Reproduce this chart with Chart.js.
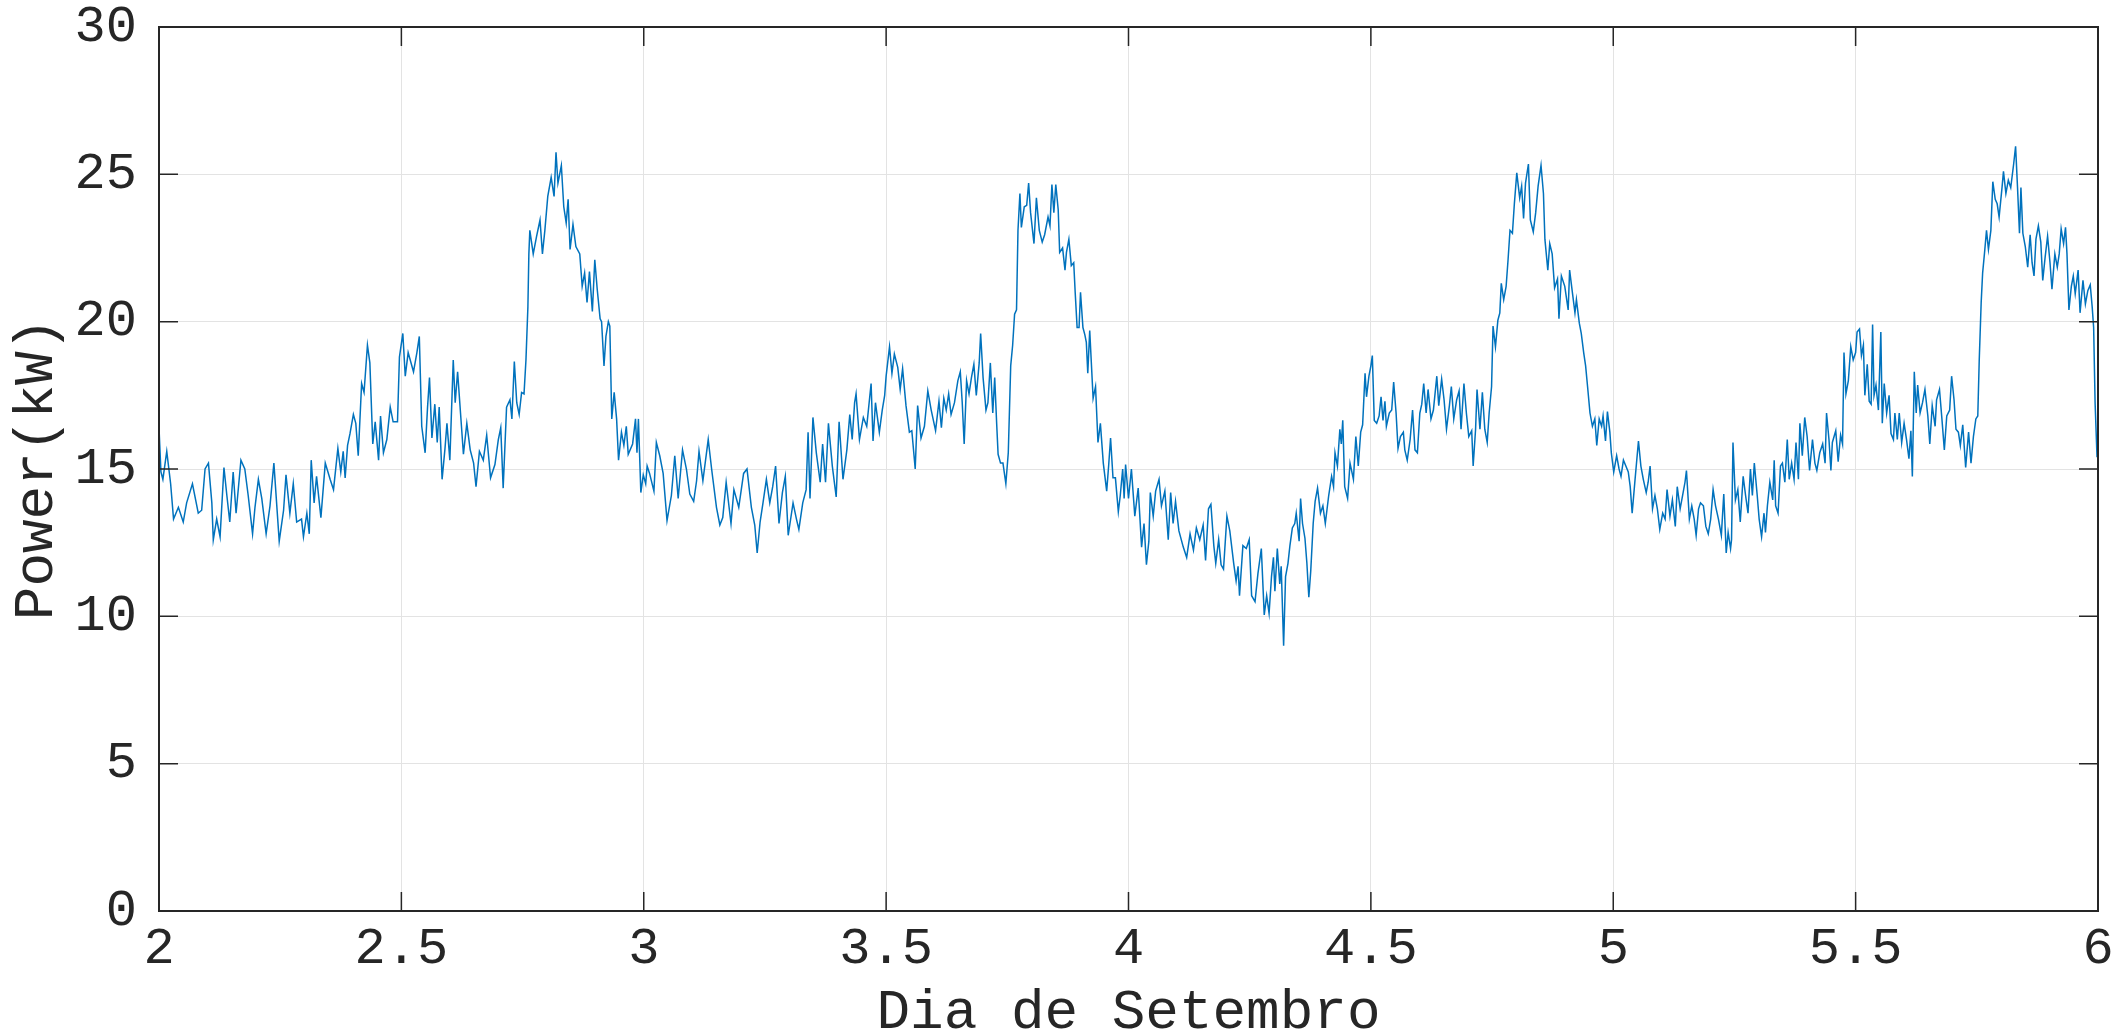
<!DOCTYPE html>
<html>
<head>
<meta charset="utf-8">
<script src="https://cdn.jsdelivr.net/npm/chart.js@4/dist/chart.umd.min.js"></script>
<style>
  html, body { margin: 0; padding: 0; background: #ffffff; }
  #wrap { width: 2124px; height: 1030px; position: relative; }
</style>
</head>
<body>
<div id="wrap"><canvas id="powerChart"></canvas></div>
<script>
// time axis, in days of September
var days = [
  2.000, 2.004, 2.008, 2.016, 2.024, 2.030, 2.040, 2.050, 2.057, 2.069, 2.081, 2.088, 2.095, 2.102, 2.109, 2.112,
  2.119, 2.126, 2.134, 2.140, 2.146, 2.153, 2.159, 2.169, 2.177, 2.184, 2.193, 2.198, 2.205, 2.212, 2.221, 2.229,
  2.237, 2.248, 2.257, 2.262, 2.270, 2.277, 2.284, 2.294, 2.298, 2.305, 2.310, 2.314, 2.320, 2.325, 2.334, 2.343,
  2.353, 2.360, 2.369, 2.375, 2.380, 2.384, 2.389, 2.394, 2.401, 2.406, 2.411, 2.418, 2.423, 2.430, 2.435, 2.441,
  2.446, 2.453, 2.457, 2.463, 2.470, 2.477, 2.483, 2.492, 2.496, 2.503, 2.508, 2.514, 2.525, 2.532, 2.537, 2.542,
  2.549, 2.554, 2.558, 2.563, 2.569, 2.574, 2.578, 2.584, 2.590, 2.594, 2.600, 2.607, 2.611, 2.616, 2.622, 2.628,
  2.635, 2.642, 2.649, 2.654, 2.661, 2.669, 2.676, 2.684, 2.693, 2.700, 2.705, 2.710, 2.717, 2.724, 2.728, 2.733,
  2.738, 2.743, 2.748, 2.753, 2.757, 2.761, 2.763, 2.765, 2.772, 2.779,
  2.786, 2.791, 2.796, 2.802, 2.809, 2.815, 2.819, 2.823, 2.830, 2.835, 2.840, 2.844, 2.848, 2.854, 2.860, 2.868,
  2.873, 2.878, 2.883, 2.888, 2.894, 2.899, 2.904, 2.910, 2.913, 2.918, 2.922, 2.927, 2.930, 2.934, 2.939, 2.944,
  2.948, 2.954, 2.959, 2.964, 2.968, 2.977, 2.983, 2.986, 2.989, 2.994, 2.999, 3.004, 3.007, 3.012, 3.021, 3.026,
  3.033, 3.040, 3.048, 3.057, 3.064, 3.071, 3.080, 3.088, 3.095, 3.103, 3.109, 3.114, 3.122, 3.133, 3.140, 3.150,
  3.157, 3.163, 3.170, 3.180, 3.186, 3.196, 3.206, 3.213, 3.222, 3.229, 3.234, 3.240, 3.246, 3.253, 3.260, 3.266,
  3.272, 3.279, 3.286, 3.292, 3.298, 3.308, 3.315, 3.320, 3.328, 3.335, 3.339, 3.343, 3.349, 3.356, 3.364, 3.369,
  3.375, 3.381, 3.389, 3.397, 3.403, 3.411, 3.419, 3.425, 3.430, 3.435, 3.438, 3.445, 3.453, 3.460, 3.469, 3.473,
  3.478, 3.486, 3.492, 3.497, 3.500, 3.507, 3.512, 3.517, 3.524, 3.529, 3.534, 3.541, 3.548, 3.553, 3.560, 3.565,
  3.572, 3.579, 3.586, 3.593, 3.602, 3.609,
  3.614, 3.619, 3.624, 3.629, 3.634, 3.641, 3.648, 3.653, 3.657, 3.661, 3.666, 3.671, 3.676, 3.681, 3.686, 3.692,
  3.695, 3.700, 3.706, 3.710, 3.715, 3.720, 3.724, 3.728, 3.731, 3.736, 3.741, 3.747, 3.752, 3.757, 3.761, 3.765,
  3.769, 3.772, 3.776, 3.779, 3.785, 3.790, 3.794, 3.798, 3.805, 3.810, 3.816, 3.822, 3.827, 3.834, 3.838, 3.842,
  3.846, 3.850, 3.855, 3.858, 3.864, 3.869, 3.872, 3.877, 3.882, 3.887, 3.890, 3.894, 3.898, 3.901, 3.906, 3.910,
  3.913, 3.916, 3.920, 3.927, 3.932, 3.937, 3.942, 3.948, 3.955, 3.959, 3.963, 3.968, 3.973, 3.979, 3.983, 3.988,
  3.991, 3.994, 4.000, 4.006, 4.013, 4.020, 4.027, 4.032, 4.037, 4.042, 4.045, 4.051, 4.056, 4.063, 4.068, 4.075,
  4.082, 4.087, 4.092, 4.097, 4.104, 4.113, 4.120, 4.127, 4.134, 4.140, 4.147, 4.154, 4.159, 4.165, 4.170, 4.176,
  4.180, 4.186, 4.191, 4.196, 4.203, 4.209, 4.217, 4.222, 4.226, 4.229, 4.236, 4.243, 4.249, 4.254, 4.261, 4.267,
  4.274, 4.280, 4.285, 4.290, 4.295, 4.299, 4.302, 4.307, 4.312, 4.315, 4.320, 4.324, 4.329, 4.333, 4.338, 4.343,
  4.346, 4.352, 4.355, 4.359, 4.364, 4.368, 4.372, 4.376, 4.381, 4.385, 4.390, 4.396, 4.401, 4.406, 4.413,
  4.419, 4.423, 4.426, 4.431, 4.436, 4.439, 4.442, 4.446, 4.452, 4.457, 4.464, 4.469, 4.474, 4.479, 4.483, 4.488,
  4.491, 4.496, 4.500, 4.503, 4.507, 4.512, 4.517, 4.521, 4.525, 4.529, 4.532, 4.538, 4.543, 4.547, 4.552, 4.556,
  4.561, 4.567, 4.570, 4.575, 4.581, 4.586, 4.591, 4.596, 4.601, 4.605, 4.609, 4.614, 4.618, 4.624, 4.629, 4.636,
  4.640, 4.646, 4.651, 4.656, 4.662, 4.666, 4.671, 4.677, 4.682, 4.686, 4.692, 4.697, 4.702, 4.708, 4.711, 4.716,
  4.719, 4.725, 4.730, 4.735, 4.740, 4.744, 4.749, 4.752, 4.757, 4.762, 4.766, 4.769, 4.774, 4.779, 4.783, 4.787,
  4.792, 4.796, 4.801, 4.807, 4.811, 4.815, 4.819, 4.825, 4.829, 4.835, 4.840, 4.845, 4.851, 4.856, 4.859, 4.865,
  4.869, 4.874, 4.879, 4.885, 4.888, 4.893, 4.900, 4.907, 4.910, 4.916, 4.921, 4.924, 4.930, 4.934, 4.939, 4.943,
  4.947, 4.952, 4.957, 4.962, 4.966, 4.971, 4.976, 4.979, 4.984, 4.988, 4.993, 4.996, 5.001, 5.007, 5.012, 5.016,
  5.021, 5.026, 5.031, 5.035, 5.039, 5.045, 5.052, 5.057, 5.062, 5.068, 5.072, 5.076, 5.081, 5.086, 5.091, 5.096,
  5.102, 5.107, 5.111, 5.117, 5.122, 5.128, 5.132, 5.138, 5.143, 5.148, 5.151, 5.157, 5.162, 5.167, 5.171, 5.176,
  5.180, 5.186, 5.191, 5.196, 5.201, 5.206, 5.211, 5.217,
  5.223, 5.228, 5.233, 5.237, 5.242, 5.244, 5.247, 5.252, 5.257, 5.262, 5.268, 5.273, 5.278, 5.283, 5.287, 5.291,
  5.297, 5.301, 5.306, 5.311, 5.314, 5.318, 5.323, 5.329, 5.332, 5.335, 5.340, 5.345, 5.349, 5.354, 5.359, 5.363,
  5.368, 5.373, 5.377, 5.382, 5.385, 5.390, 5.395, 5.400, 5.405, 5.411, 5.416, 5.420, 5.426, 5.432, 5.437, 5.440,
  5.445, 5.449, 5.452, 5.459, 5.464, 5.469, 5.473, 5.476, 5.480, 5.485, 5.490, 5.495, 5.500, 5.503, 5.508, 5.512,
  5.516, 5.519, 5.524, 5.528, 5.532, 5.535, 5.538, 5.542, 5.547, 5.552, 5.555, 5.559, 5.564, 5.569, 5.573, 5.578,
  5.581, 5.586, 5.590, 5.595, 5.600, 5.605, 5.610, 5.614, 5.617, 5.621, 5.625, 5.628, 5.633, 5.638, 5.643, 5.649,
  5.653, 5.658, 5.664, 5.667, 5.673, 5.678, 5.683, 5.688, 5.694, 5.698, 5.703, 5.707, 5.712, 5.716, 5.721, 5.727,
  5.733, 5.738, 5.743, 5.748, 5.752, 5.755, 5.759, 5.762, 5.766, 5.770, 5.774, 5.779, 5.783, 5.788, 5.792, 5.796,
  5.802, 5.805, 5.810, 5.815, 5.820, 5.826, 5.830, 5.834, 5.838, 5.841, 5.845, 5.850, 5.855, 5.860, 5.864, 5.868,
  5.872, 5.877, 5.882, 5.886, 5.891, 5.896, 5.901, 5.905, 5.911, 5.916, 5.920, 5.924, 5.929, 5.933, 5.936, 5.940,
  5.945, 5.949, 5.953, 5.959, 5.963, 5.969, 5.974, 5.979, 5.984, 5.988, 5.991, 5.994, 5.998, 6.000
];

// power in kW, one value per entry of days
var power = [
  16.4, 14.9, 14.65, 15.6, 14.5, 13.3, 13.7, 13.2, 13.85, 14.5, 13.5, 13.6, 15.0, 15.2, 13.85, 12.6,
  13.3, 12.7, 15.05, 14.1, 13.2, 14.9, 13.5, 15.3, 15.0, 14.1, 12.8, 13.7, 14.65, 14.0, 12.8, 13.75,
  15.2, 12.55, 13.6, 14.8, 13.5, 14.5, 13.2, 13.3, 12.7, 13.5, 12.8, 15.3, 13.85, 14.75, 13.35, 15.2,
  14.65, 14.3, 15.7, 14.9, 15.6, 14.7, 15.8, 16.2, 16.85, 16.55, 15.45, 17.9, 17.6, 19.2, 18.6, 15.85,
  16.6, 15.3, 16.8, 15.55, 16.0, 17.1, 16.6, 16.6, 18.8, 19.6, 18.15, 18.95, 18.3, 18.95, 19.5, 16.45,
  15.55, 17.1, 18.1, 16.05, 17.2, 15.9, 17.1, 14.65, 15.7, 16.55, 15.3, 18.7, 17.25, 18.3, 16.9, 15.5,
  16.55, 15.65, 15.2, 14.4, 15.6, 15.3, 16.15, 14.7, 15.15, 16.0, 16.4, 14.35, 17.1, 17.35, 16.7, 18.65,
  17.25, 16.85, 17.6, 17.55, 18.7, 20.5, 22.3, 23.1, 22.3, 22.9,
  23.45, 22.3, 23.1, 24.25, 24.9, 24.25, 25.75, 24.7, 25.3, 23.9, 23.35, 24.15, 22.45, 23.3, 22.55, 22.3,
  21.2, 21.65, 20.65, 21.7, 20.35, 22.1, 21.1, 20.1, 20.0, 18.5, 19.5, 20.0, 19.85, 16.7, 17.6, 16.7,
  15.3, 16.25, 15.8, 16.45, 15.5, 15.85, 16.7, 15.55, 16.7, 14.2, 14.8, 14.5, 15.1, 14.85, 14.25, 15.9,
  15.45, 14.85, 13.25, 14.1, 15.45, 14.0, 15.65, 15.0, 14.15, 13.9, 14.6, 15.6, 14.6, 16.0, 15.0, 13.7,
  13.1, 13.35, 14.55, 13.15, 14.3, 13.7, 14.85, 15.0, 13.7, 13.1, 12.15, 13.2, 13.85, 14.65, 13.85, 14.4,
  15.1, 13.15, 14.2, 14.75, 12.75, 13.85, 13.3, 12.95, 13.85, 14.3, 16.25, 14.0, 16.75, 15.55, 14.55, 15.85,
  14.55, 16.55, 15.1, 14.05, 16.6, 14.65, 15.65, 16.85, 16.0, 17.25, 17.55, 16.0, 16.75, 16.45, 17.9, 15.95,
  17.25, 16.25, 17.0, 17.5, 18.15, 19.15, 18.25, 18.9, 18.45, 17.7, 18.4, 17.15, 16.25, 16.3, 15.0, 17.15,
  16.05, 16.45, 17.65, 17.0, 16.3, 17.3,
  16.4, 17.4, 17.0, 17.55, 16.85, 17.25, 18.0, 18.3, 17.25, 15.85, 18.0, 17.55, 18.1, 18.55, 17.5, 18.6,
  19.6, 18.1, 17.0, 17.25, 18.6, 16.9, 18.1, 16.55, 15.5, 15.2, 15.2, 14.5, 15.55, 18.5, 19.2, 20.25,
  20.4, 23.1, 24.35, 23.2, 23.9, 23.95, 24.7, 23.7, 22.65, 24.2, 23.1, 22.7, 22.95, 23.55, 23.25, 24.65,
  23.7, 24.65, 23.8, 22.35, 22.5, 21.75, 22.35, 22.8, 21.9, 22.0, 21.0, 19.8, 19.8, 21.0, 19.8, 19.55,
  19.3, 18.25, 19.7, 17.4, 17.8, 15.9, 16.55, 15.2, 14.25, 15.1, 16.05, 14.7, 14.7, 13.55, 14.1, 15.0,
  14.0, 15.15, 14.0, 15.0, 13.4, 14.35, 12.35, 13.15, 11.75, 12.55, 14.2, 13.4, 14.25, 14.65, 13.75, 14.25,
  12.6, 14.2, 13.15, 13.9, 12.9, 12.35, 12.0, 12.8, 12.25, 13.0, 12.6, 13.1, 11.9, 13.65, 13.8, 12.4,
  11.8, 12.6, 11.75, 11.6, 13.4, 12.9, 11.8, 11.2, 11.7, 10.7, 12.4, 12.3, 12.6, 10.7, 10.5, 11.45,
  12.3, 10.05, 10.7, 10.1, 11.35, 12.0, 10.85, 12.3, 11.1, 11.7, 9.0, 11.35, 11.8, 12.4, 13.0, 13.15,
  13.5, 12.55, 14.0, 13.15, 12.65, 11.8, 10.65, 11.55, 13.15, 13.9, 14.35, 13.5, 13.75, 13.15, 14.1,
  14.75, 14.4, 15.55, 15.1, 16.35, 15.85, 16.65, 14.4, 14.0, 15.2, 14.65, 16.1, 15.1, 16.25, 16.5, 18.25,
  17.45, 18.15, 18.5, 18.85, 16.65, 16.55, 16.8, 17.45, 16.65, 17.3, 16.45, 16.9, 17.0, 17.95, 16.9, 15.7,
  16.1, 16.25, 15.65, 15.3, 16.0, 17.0, 15.65, 15.55, 16.9, 17.2, 17.9, 16.9, 17.7, 16.7, 17.0, 18.15,
  17.15, 18.05, 17.35, 16.35, 17.15, 17.8, 16.7, 17.35, 17.65, 16.35, 17.9, 16.9, 16.1, 16.3, 15.1, 16.35,
  17.7, 16.35, 17.6, 16.35, 15.9, 16.9, 17.8, 19.85, 19.15, 20.05, 20.3, 21.3, 20.75, 21.2, 22.1, 23.1,
  23.0, 24.0, 25.05, 24.2, 24.6, 23.5, 24.7, 25.35, 23.45, 23.05, 23.7, 24.6, 25.3, 24.35, 22.8, 21.75,
  22.65, 22.3, 21.15, 21.45, 20.1, 21.55, 21.2, 20.4, 21.75, 20.95, 20.3, 20.75, 19.95, 19.6, 18.95, 18.5,
  17.8, 16.9, 16.45, 16.7, 15.8, 16.7, 16.45, 16.8, 15.95, 16.95, 16.25, 15.55, 14.9, 15.45, 15.0, 14.75,
  15.3, 15.1, 14.9, 14.4, 13.5, 14.65, 15.95, 15.1, 14.65, 14.2, 14.55, 15.1, 13.65, 14.1, 13.65, 12.95,
  13.5, 13.3, 14.3, 13.4, 13.95, 13.05, 14.4, 13.65, 14.1, 14.55, 14.95, 13.3, 13.75, 13.3, 12.75, 13.65,
  13.85, 13.75, 13.05, 12.8, 13.3, 14.3, 13.75, 13.3,
  12.75, 14.15, 12.15, 12.85, 12.3, 12.6, 15.9, 13.95, 14.3, 13.2, 14.75, 14.1, 13.5, 15.0, 14.1, 15.2,
  14.1, 13.3, 12.7, 13.5, 12.85, 13.75, 14.55, 13.95, 15.3, 13.75, 13.5, 15.1, 15.2, 14.55, 16.0, 14.65,
  15.2, 14.65, 15.9, 14.65, 16.55, 15.45, 16.75, 16.1, 14.95, 16.0, 15.2, 14.95, 15.55, 15.85, 15.2, 16.9,
  16.0, 14.95, 15.9, 16.3, 15.25, 16.15, 15.85, 18.95, 17.55, 18.0, 19.15, 18.7, 18.95, 19.65, 19.75, 18.85,
  19.2, 17.5, 18.55, 17.3, 17.2, 19.9, 17.5, 17.85, 17.0, 19.65, 16.55, 17.9, 16.9, 17.5, 16.2, 16.0,
  16.9, 16.0, 16.9, 15.9, 16.55, 16.0, 15.35, 16.3, 14.75, 18.3, 16.9, 17.85, 16.9, 17.25, 17.7, 16.8,
  15.85, 17.15, 16.45, 17.35, 17.7, 16.7, 15.65, 16.8, 17.0, 18.15, 17.35, 16.35, 16.25, 15.8, 16.5, 15.05,
  16.25, 15.2, 16.1, 16.7, 16.8, 18.7, 20.65, 21.65, 22.35, 23.1, 22.45, 23.1, 24.75, 24.15, 24.0, 23.55,
  24.55, 25.1, 24.35, 24.8, 24.55, 25.35, 25.95, 24.55, 23.0, 24.55, 23.0, 22.55, 21.85, 22.95, 22.0, 21.55,
  22.8, 23.25, 22.7, 21.4, 22.2, 22.9, 22.0, 21.1, 22.3, 21.85, 22.3, 23.15, 22.65, 23.2, 22.3, 20.4,
  21.2, 21.55, 20.95, 21.75, 20.3, 21.4, 20.6, 21.05, 21.25, 20.5, 19.8, 17.25, 15.4, 15.9
];

var xTickValues = [2, 2.5, 3, 3.5, 4, 4.5, 5, 5.5, 6];
var yTickValues = [0, 5, 10, 15, 20, 25, 30];

var points = [];
for (var i = 0; i < days.length; i++) {
    points.push({x: days[i], y: power[i]});
}

var axisColor = '#262626';
var monoFont = "'Liberation Mono', 'Courier New', monospace";

// MATLAB style box with ticks pointing inwards on all four sides
var boxPlugin = {
    id: 'matlabBox',
    afterDatasetsDraw: function(chart) {
        var ctx = chart.ctx;
        var area = chart.chartArea;
        var xs = chart.scales.x;
        var ys = chart.scales.y;
        var len = 19;
        ctx.save();
        ctx.strokeStyle = axisColor;
        ctx.lineWidth = 1.5;
        ctx.beginPath();
        xTickValues.forEach(function(v) {
            var px = xs.getPixelForValue(v);
            ctx.moveTo(px, area.bottom); ctx.lineTo(px, area.bottom - len);
            ctx.moveTo(px, area.top); ctx.lineTo(px, area.top + len);
        });
        yTickValues.forEach(function(v) {
            var py = ys.getPixelForValue(v);
            ctx.moveTo(area.left, py); ctx.lineTo(area.left + len, py);
            ctx.moveTo(area.right, py); ctx.lineTo(area.right - len, py);
        });
        ctx.stroke();
        ctx.lineWidth = 2;
        ctx.strokeRect(area.left, area.top, area.right - area.left, area.bottom - area.top);
        ctx.restore();
    }
};

var ctx = document.getElementById('powerChart').getContext('2d');

var chart = new Chart(ctx, {
    type: 'line',
    data: {
        datasets: [{
            label: 'Power',
            data: points,
            borderColor: '#0072BD',
            borderWidth: 1.5,
            pointRadius: 0,
            tension: 0,
            fill: false
        }]
    },
    options: {
        responsive: true,
        maintainAspectRatio: false,
        animation: false,
        events: [],
        layout: {
            autoPadding: false,
            padding: {top: 27, right: 26, left: 0, bottom: 0}
        },
        plugins: {
            legend: {display: false},
            tooltip: {enabled: false}
        },
        scales: {
            x: {
                type: 'linear',
                min: 2,
                max: 6,
                afterBuildTicks: function(scale) {
                    scale.ticks = xTickValues.map(function(v) { return {value: v}; });
                },
                afterFit: function(scale) {
                    scale.height = 119;
                    scale.paddingLeft = 0;
                    scale.paddingRight = 0;
                },
                grid: {color: '#e3e3e3', lineWidth: 1, drawTicks: false},
                border: {display: false},
                ticks: {
                    padding: 7,
                    color: axisColor,
                    maxRotation: 0,
                    autoSkip: false,
                    font: {family: monoFont, size: 52, lineHeight: 1.2},
                    callback: function(v) { return String(v); }
                },
                title: {
                    display: true,
                    text: 'Dia de Setembro',
                    color: axisColor,
                    font: {family: monoFont, size: 56, lineHeight: 0.6},
                    padding: {top: 0, bottom: 0}
                }
            },
            y: {
                type: 'linear',
                min: 0,
                max: 30,
                afterBuildTicks: function(scale) {
                    scale.ticks = yTickValues.map(function(v) { return {value: v}; });
                },
                afterFit: function(scale) {
                    scale.width = 159;
                    // keep the plot box where the reference has it
                    scale.paddingTop = 0;
                    scale.paddingBottom = 0;
                },
                grid: {color: '#e3e3e3', lineWidth: 1, drawTicks: false},
                border: {display: false},
                ticks: {
                    padding: 22,
                    color: axisColor,
                    autoSkip: false,
                    font: {family: monoFont, size: 52, lineHeight: 1.2},
                    callback: function(v) { return String(v); }
                },
                title: {
                    display: true,
                    text: 'Power(kW)',
                    color: axisColor,
                    font: {family: monoFont, size: 56, lineHeight: 1.2},
                    padding: {top: 4, bottom: 0}
                }
            }
        }
    },
    plugins: [boxPlugin]
});
</script>
</body>
</html>
